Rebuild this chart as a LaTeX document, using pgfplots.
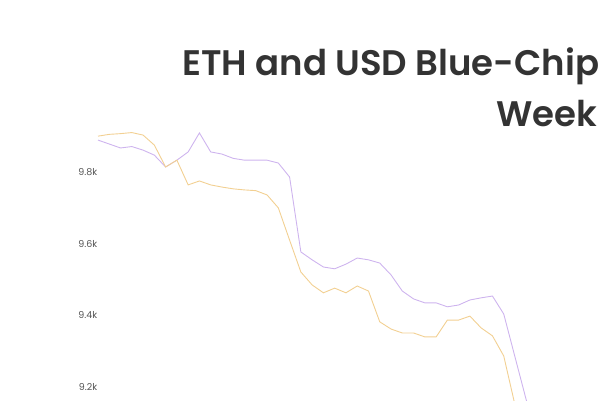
\documentclass[border=0pt]{standalone}
\usepackage{fontspec}
\setmainfont{Poppins}
\newfontfamily\titlefont{Poppins SemiBold}
\usepackage{pgfplots}
\pgfplotsset{compat=1.18}

\definecolor{ethline}{RGB}{206,180,238}
\definecolor{usdline}{RGB}{242,208,146}
\definecolor{titlegray}{RGB}{51,51,51}
\definecolor{tickgray}{RGB}{85,85,85}

% index -> value
\pgfplotstableread{
i   v
0   9889
1   9878
2   9867
3   9871
4   9861
5   9847
6   9814
7   9833
8   9856
9   9909
10  9856
11  9850
12  9838
13  9833
14  9833
15  9833
16  9825
17  9786
18  9577
19  9555
20  9535
21  9530
22  9543
23  9560
24  9555
25  9546
26  9513
27  9468
28  9446
29  9435
30  9435
31  9424
32  9429
33  9443
34  9449
35  9454
36  9404
37  9284
38  9164
39  9050
}\ethdata

\pgfplotstableread{
i   v
0   9900
1   9905
2   9907
3   9910
4   9903
5   9875
6   9814
7   9833
8   9764
9   9775
10  9764
11  9758
12  9753
13  9750
14  9748
15  9736
16  9700
17  9610
18  9521
19  9485
20  9463
21  9476
22  9463
23  9482
24  9468
25  9382
26  9362
27  9351
28  9351
29  9340
30  9340
31  9387
32  9387
33  9398
34  9365
35  9343
36  9287
37  9150
38  9040
}\usddata

\begin{document}
\begin{tikzpicture}
\useasboundingbox (0,0) rectangle (600pt,400pt);
\clip (0,0) rectangle (600pt,400pt);

\node[anchor=base west, inner sep=0pt, text=titlegray,
      font=\titlefont\fontsize{35.5}{42}\selectfont] at (182pt,325pt)
      {ETH and USD Blue-Chip Index};
\node[anchor=base west, inner sep=0pt, text=titlegray,
      font=\titlefont\fontsize{35.5}{42}\selectfont] at (496pt,274pt)
      {Week};

\begin{axis}[
    at={(98pt,-58.8pt)}, anchor=south west,
    x=11.27pt, y=0.3585pt,
    xmin=0, xmax=45,
    ymin=9000, ymax=9950,
    enlargelimits=false,
    axis line style={draw=none},
    major tick length=0pt,
    xtick=\empty,
    ytick={9200,9400,9600,9800},
    yticklabels={9.2k,9.4k,9.6k,9.8k},
    yticklabel style={anchor=east, inner sep=0pt, xshift=-0.5pt,
        text=tickgray, font=\fontsize{9.5}{11}\selectfont},
    clip=false,
]
\addplot[ethline, line width=0.9pt, no markers] table[x=i, y=v] {\ethdata};
\addplot[usdline, line width=0.9pt, no markers] table[x=i, y=v] {\usddata};
\end{axis}
\end{tikzpicture}
\end{document}
